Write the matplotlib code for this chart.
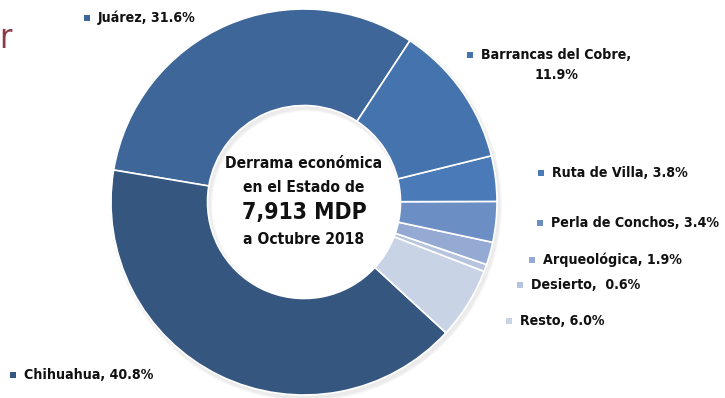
import matplotlib.pyplot as plt
from matplotlib import font_manager
from matplotlib.patches import Rectangle

# slices in counter-clockwise order, starting at the Juárez / Barrancas edge
destinos = ['Juárez', 'Chihuahua', 'Resto', 'Desierto', 'Arqueológica',
            'Perla de Conchos', 'Ruta de Villa', 'Barrancas del Cobre']
porcentajes = [31.6, 40.8, 6.0, 0.6, 1.9, 3.4, 3.8, 11.9]
colores = ['#3e6699', '#34567f', '#c9d3e6', '#b7c4df', '#94aad2',
           '#6b8fc4', '#4a7ab8', '#4473ae']

# label text per slice (Barrancas wraps to two lines)
etiquetas = ['Juárez, 31.6%', 'Chihuahua, 40.8%', 'Resto, 6.0%',
             'Desierto,  0.6%', 'Arqueológica, 1.9%',
             'Perla de Conchos, 3.4%', 'Ruta de Villa, 3.8%',
             'Barrancas del Cobre,']

W, H = 725, 398

# prefer a condensed face if one is installed
nombres = {f.name for f in font_manager.fontManager.ttflist}
if 'DejaVu Sans Condensed' in nombres:
    FONT = dict(family='DejaVu Sans Condensed')
else:
    FONT = dict(family='DejaVu Sans', fontstretch='condensed')


def main():
    fig = plt.figure(figsize=(W / 100, H / 100), dpi=100)
    ax = fig.add_axes([0, 0, 1, 1])

    cx, cy, r = 304, H - 202, 193

    # soft drop shadow under the ring
    for k in range(3):
        ax.pie([1], radius=r + 1 + k, center=(cx + 2, cy - 3),
               colors=['#808080'], wedgeprops=dict(width=r * 0.52, alpha=0.05,
                                                   linewidth=0))

    ax.pie(porcentajes, colors=colores, startangle=56.7, counterclock=True,
           radius=r, center=(cx, cy),
           wedgeprops=dict(width=r * 0.5, edgecolor='white', linewidth=1.2))

    ax.set_xlim(0, W)
    ax.set_ylim(0, H)
    ax.set_aspect('equal')
    ax.axis('off')

    txt = dict(fontweight='bold', color='#111111', **FONT)

    # label anchor (square marker x, text y) in pixel coordinates
    pos = [(87, 18), (13, 375), (509, 321), (520, 285), (532, 260),
           (540, 223), (541, 173), (470, 55)]
    for etq, col, (x, y) in zip(etiquetas, colores, pos):
        ax.add_patch(Rectangle((x - 3, H - y - 3), 6.5, 6.5, color=col,
                               linewidth=0))
        ax.text(x + 11, H - y, etq, ha='left', va='center', fontsize=10.2,
                **txt)
    ax.text(557, H - 75, '11.9%', ha='center', va='center', fontsize=10.2,
            **txt)

    # center text
    ax.text(cx, H - 163, 'Derrama económica', ha='center', va='center',
            fontsize=11.2, **txt)
    ax.text(cx, H - 188, 'en el Estado de', ha='center', va='center',
            fontsize=11.2, **txt)
    ax.text(cx, H - 213, '7,913 MDP', ha='center', va='center',
            fontsize=16.5, **txt)
    ax.text(cx, H - 240, 'a Octubre 2018', ha='center', va='center',
            fontsize=11.2, **txt)

    # trailing letter of the slide title
    ax.text(-1, H - 39, 'r', ha='left', va='center', fontsize=24,
            color='#8c3a4a', **FONT)

    fig.savefig('out.png', dpi=100)


if __name__ == '__main__':
    main()
